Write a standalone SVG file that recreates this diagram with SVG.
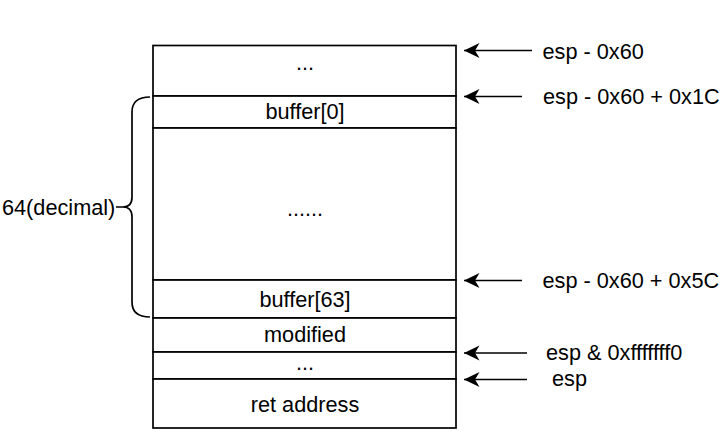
<svg xmlns="http://www.w3.org/2000/svg" width="722" height="441" viewBox="0 0 722 441">
<style>
.cell{fill:#fff;stroke:#000;stroke-width:1.7}
.t{font-family:"Liberation Sans",Arial,sans-serif;font-size:21.7px;fill:#000}
.c{text-anchor:middle}
.arr{stroke:#000;stroke-width:1.7;fill:none;marker-end:url(#ah)}
.brace{stroke:#000;stroke-width:1.7;fill:none}
</style>
<defs>
<marker id="ah" markerUnits="userSpaceOnUse" viewBox="0 0 16 16" refX="15.5" refY="8" markerWidth="16" markerHeight="16" orient="auto">
<path d="M15.5,8 L0,0.5 L4.5,8 L0,15.5 Z" fill="#000"/>
</marker>
</defs>
<rect width="722" height="441" fill="#fff"/>
<g id="cell-top"><rect class="cell" x="153" y="45.5" width="303" height="50.5"/><text class="t c" x="305" y="70">...</text></g>
<g id="cell-buffer0"><rect class="cell" x="153" y="96" width="303" height="32"/><text class="t c" x="305" y="118.5">buffer[0]</text></g>
<g id="cell-middle"><rect class="cell" x="153" y="128" width="303" height="152"/><text class="t c" x="305" y="216">......</text></g>
<g id="cell-buffer63"><rect class="cell" x="153" y="280" width="303" height="38"/><text class="t c" x="305" y="307">buffer[63]</text></g>
<g id="cell-modified"><rect class="cell" x="153" y="318" width="303" height="34"/><text class="t c" x="305" y="342">modified</text></g>
<g id="cell-dots"><rect class="cell" x="153" y="352" width="303" height="27"/><text class="t c" x="305" y="370">...</text></g>
<g id="cell-ret"><rect class="cell" x="153" y="379" width="303" height="49"/><text class="t c" x="305" y="412">ret address</text></g>
<g id="brace"><path class="brace" d="M150,97 Q132,97 132,112 L132,197 Q132,207 123,207 L116,207 M123,207 Q132,207 132,217 L132,302 Q132,317 150,317"/><text class="t" x="2" y="215">64(decimal)</text></g>
<g id="connectors">
<line class="arr" x1="532" y1="50.5" x2="464" y2="50.5"/>
<line class="arr" x1="522" y1="96.5" x2="464" y2="96.5"/>
<line class="arr" x1="522" y1="280.5" x2="464" y2="280.5"/>
<line class="arr" x1="527" y1="353" x2="464" y2="353"/>
<line class="arr" x1="527" y1="379.5" x2="464" y2="379.5"/>
</g>
<g id="labels">
<text class="t" x="542.5" y="58.5">esp - 0x60</text>
<text class="t" x="543" y="103.5">esp - 0x60 + 0x1C</text>
<text class="t" x="542.5" y="287.5">esp - 0x60 + 0x5C</text>
<text class="t" x="546" y="360">esp &amp; 0xfffffff0</text>
<text class="t" x="552" y="386">esp</text>
</g>
</svg>
